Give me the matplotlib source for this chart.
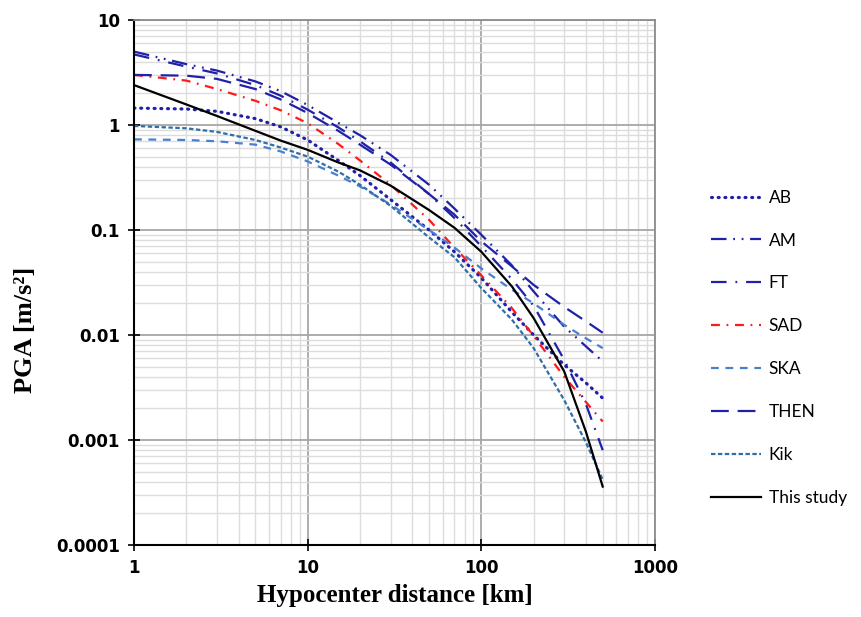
import matplotlib
matplotlib.use("Agg")
import matplotlib.pyplot as plt
from matplotlib.ticker import LogLocator, FixedLocator, NullFormatter

# distances [km]
distance = [1, 2, 3, 5, 7, 10, 15, 20, 30, 50, 70, 100, 150, 200, 300, 400, 500]

pga_AB = [1.45, 1.42, 1.35, 1.15, 0.96, 0.72, 0.46, 0.33, 0.195, 0.100, 0.062, 0.035, 0.0165, 0.0100, 0.0052, 0.0035, 0.0025]
pga_AM = [5.0, 3.8, 3.3, 2.6, 2.1, 1.55, 1.05, 0.80, 0.52, 0.27, 0.16, 0.090, 0.046, 0.026, 0.012, 0.0078, 0.0056]
pga_FT = [4.7, 3.6, 3.1, 2.4, 1.9, 1.4, 0.95, 0.70, 0.44, 0.22, 0.13, 0.070, 0.034, 0.019, 0.0058, 0.0022, 0.0008]
pga_SAD = [3.0, 2.65, 2.2, 1.7, 1.38, 1.04, 0.66, 0.46, 0.27, 0.125, 0.068, 0.037, 0.018, 0.0098, 0.0040, 0.0023, 0.0015]
pga_SKA = [0.73, 0.72, 0.70, 0.65, 0.56, 0.45, 0.33, 0.26, 0.175, 0.10, 0.068, 0.043, 0.027, 0.020, 0.0125, 0.0093, 0.0075]
pga_THEN = [3.0, 2.95, 2.75, 2.2, 1.75, 1.3, 0.88, 0.65, 0.42, 0.22, 0.14, 0.078, 0.045, 0.030, 0.0185, 0.0135, 0.0105]
pga_Kik = [0.98, 0.93, 0.86, 0.72, 0.61, 0.50, 0.36, 0.27, 0.17, 0.085, 0.055, 0.028, 0.014, 0.0075, 0.0024, 0.00095, 0.00042]
pga_study = [2.4, 1.57, 1.22, 0.88, 0.71, 0.58, 0.44, 0.37, 0.265, 0.155, 0.105, 0.062, 0.029, 0.0145, 0.0045, 0.0012, 0.00036]

labels = ["AB", "AM", "FT", "SAD", "SKA", "THEN", "Kik", "This study"]
x_ticks = [1, 10, 100, 1000]
x_ticklabels = ["1", "10", "100", "1000"]
y_ticks = [0.0001, 0.001, 0.01, 0.1, 1, 10]
y_ticklabels = ["0.0001", "0.001", "0.01", "0.1", "1", "10"]

dark = "#2020a8"
fig = plt.figure(figsize=(8.61, 6.17), dpi=100)
ax = fig.add_axes([134/861, 1-545/617, (655-134)/861, (545-20)/617])

series = [
    (pga_AB, dict(color=dark, linestyle=(0, (0.3, 1.8)), lw=2.3, dash_capstyle="round")),
    (pga_AM, dict(color=dark, linestyle=(0, (7, 3, 0.8, 3, 0.8, 3)), lw=1.6)),
    (pga_FT, dict(color=dark, linestyle=(0, (7, 4, 0.8, 4)), lw=1.6)),
    (pga_SAD, dict(color="#ff1a1a", linestyle=(0, (4, 3, 0.8, 3)), lw=1.6)),
    (pga_SKA, dict(color="#4a7fd0", linestyle=(0, (3.5, 3)), lw=1.6)),
    (pga_THEN, dict(color=dark, linestyle=(0, (8, 4)), lw=1.6)),
    (pga_Kik, dict(color="#2f6ea6", linestyle=(0, (2.0, 1.1)), lw=1.6)),
    (pga_study, dict(color="black", linestyle="-", lw=1.6)),
]
for (vals, st), lab in zip(series, labels):
    ax.plot(distance, vals, label=lab, **st)

ax.set_xscale("log")
ax.set_yscale("log")
ax.set_xlim(1, 1000)
ax.set_ylim(0.0001, 10)
ax.xaxis.set_major_locator(FixedLocator(x_ticks))
ax.yaxis.set_major_locator(FixedLocator(y_ticks))
ax.set_xticklabels(x_ticklabels)
ax.set_yticklabels(y_ticklabels)
ax.xaxis.set_minor_locator(LogLocator(base=10, subs=range(2, 10), numticks=20))
ax.yaxis.set_minor_locator(LogLocator(base=10, subs=range(2, 10), numticks=20))
ax.xaxis.set_minor_formatter(NullFormatter())
ax.yaxis.set_minor_formatter(NullFormatter())
ax.grid(True, which="minor", color="#dcdcdc", lw=1.0)
ax.grid(True, which="major", color="#a6a6a6", lw=1.3)
ax.set_axisbelow(True)
ax.tick_params(which="minor", length=0)
ax.tick_params(which="major", direction="inout", length=8, width=1.2, pad=6)
for lab in ax.get_xticklabels() + ax.get_yticklabels():
    lab.set_fontfamily("DejaVu Sans")
    lab.set_fontweight("bold")
    lab.set_fontsize(12)
for s in ["left", "bottom"]:
    ax.spines[s].set_color("black")
    ax.spines[s].set_linewidth(1.5)
for s in ["top", "right"]:
    ax.spines[s].set_color("#8c8c8c")
    ax.spines[s].set_linewidth(1.3)

ax.set_xlabel("Hypocenter distance [km]", fontfamily="Liberation Serif", fontweight="bold", fontsize=18, labelpad=5)
ax.set_ylabel("PGA [m/s²]", fontfamily="Liberation Serif", fontweight="bold", fontsize=19)
ax.yaxis.set_label_coords(-0.186, 0.41)

leg = fig.legend(loc="upper left", bbox_to_anchor=(695/861, 1-174/617), frameon=False,
                 prop={"family": "Lato", "size": 12.5}, handlelength=2.9, handletextpad=0.45,
                 labelspacing=1.55)

fig.savefig("out.png", dpi=100)
